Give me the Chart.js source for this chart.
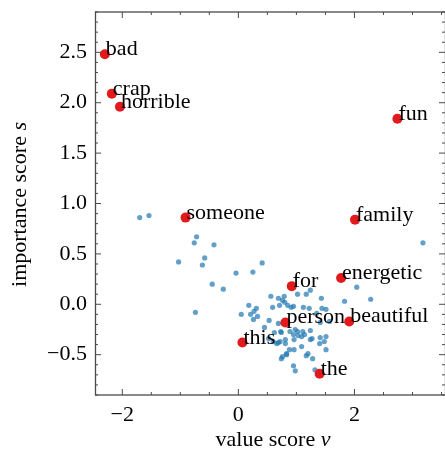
<!DOCTYPE html>
<html>
<head>
<meta charset="utf-8">
<script src="https://cdn.jsdelivr.net/npm/chart.js@4.4.1/dist/chart.umd.min.js"></script>
<style>
  html, body { margin: 0; padding: 0; background: #fff; }
</style>
</head>
<body>
<canvas id="scoreChart" width="445" height="450"></canvas>
<script>
// highlighted words
const words = ['bad', 'crap', 'horrible', 'fun', 'someone', 'family', 'energetic', 'for', 'person', 'beautiful', 'this', 'the'];
const wordValue = [-2.30, -2.18, -2.04, 2.74, -0.91, 2.01, 1.77, 0.92, 0.81, 1.91, 0.07, 1.40];
const wordImportance = [2.48, 2.09, 1.96, 1.84, 0.86, 0.84, 0.26, 0.18, -0.18, -0.17, -0.38, -0.69];

// all other tokens
const otherValue = [
  -1.70, -1.54, -0.72, -0.76, -0.42, -1.03, -0.58, -0.62, 0.41, -0.04, 0.25, -0.45, -0.26, -0.74,
  3.18, 2.04, 2.28, 1.83,
  0.56, 0.79, 0.76, 1.02, 1.17, 1.24, 1.43, 0.69, 0.18, 0.31, 0.27, 0.05, 0.21, 0.71, 0.59, 0.91,
  1.22, 1.51, 1.35, 0.33, 0.80, 0.85, 0.95, 1.12, 1.44, 0.53, 0.26, 0.45, 0.69, 0.73, 0.89, 1.02,
  1.11, 1.09, 1.24, 1.24, 0.95, 1.03, 1.14, 1.41, 1.40, 1.51, 1.41, 1.57, 0.98, 0.74, 0.62, 0.52,
  0.60, 0.66, 0.69, 0.72, 0.81, 0.81, 0.96, 1.27, 1.48, 0.96, 1.09, 0.88, 0.83, 0.83, 0.74, 0.76,
  1.17, 1.20, 1.28, 1.51, 0.95, 0.98, 1.32
];
const otherImportance = [
  0.86, 0.88, 0.67, 0.61, 0.59, 0.42, 0.46, 0.39, 0.41, 0.31, 0.32, 0.20, 0.15, -0.08,
  0.61, 0.17, 0.05, 0.03,
  0.08, 0.08, 0.04, 0.10, 0.10, 0.14, 0.06, 0.06, -0.01, -0.04, -0.07, -0.10, -0.10, -0.01, -0.03, -0.03,
  -0.04, -0.05, -0.09, -0.12, 0.02, -0.01, -0.02, -0.03, -0.04, -0.16, -0.15, -0.23, -0.19, -0.27, -0.27, -0.27,
  -0.27, -0.32, -0.26, -0.35, -0.30, -0.31, -0.30, -0.33, -0.39, -0.32, -0.18, -0.17, -0.25, -0.28, -0.28, -0.34,
  -0.37, -0.39, -0.38, -0.37, -0.35, -0.39, -0.35, -0.34, -0.37, -0.45, -0.42, -0.45, -0.49, -0.50, -0.54, -0.52,
  -0.51, -0.49, -0.54, -0.45, -0.61, -0.66, -0.65
];

const xTicks = [-2, 0, 2];
const yTicks = [-0.5, 0, 0.5, 1, 1.5, 2, 2.5];

const serif = '"Liberation Serif", "Times New Roman", serif';
const fontSize = 22;
const minus = s => s.replace('-', '\u2212');

const axesPlugin = {
  id: 'axesPlugin',
  afterDatasetsDraw(chart) {
    const { ctx, chartArea: a, scales: { x, y } } = chart;
    ctx.save();

    // word labels
    ctx.font = fontSize + 'px ' + serif;
    ctx.fillStyle = '#000';
    ctx.textAlign = 'left';
    ctx.textBaseline = 'alphabetic';
    words.forEach((w, i) => {
      ctx.fillText(w, x.getPixelForValue(wordValue[i]) + 1, y.getPixelForValue(wordImportance[i]) + 1);
    });

    // frame
    ctx.strokeStyle = '#4a4a4a';
    ctx.lineWidth = 1.3;
    ctx.strokeRect(a.left + 0.5, a.top, a.right - a.left, a.bottom - a.top);

    // inward ticks on all four sides
    ctx.lineWidth = 1;
    const tick = (px, len, horiz) => {
      ctx.beginPath();
      if (horiz) {
        ctx.moveTo(px, a.bottom); ctx.lineTo(px, a.bottom - len);
        ctx.moveTo(px, a.top); ctx.lineTo(px, a.top + len);
      } else {
        ctx.moveTo(a.left, px); ctx.lineTo(a.left + len, px);
        ctx.moveTo(a.right, px); ctx.lineTo(a.right - len, px);
      }
      ctx.stroke();
    };
    for (let v = Math.ceil(x.min * 2) / 2; v <= x.max; v += 0.5) {
      const major = Math.abs(v / 2 - Math.round(v / 2)) < 1e-6;
      tick(x.getPixelForValue(v), major ? 6 : 3, true);
    }
    for (let k = Math.ceil(y.min * 10); k <= y.max * 10; k++) {
      tick(y.getPixelForValue(k / 10), k % 5 === 0 ? 6 : 3, false);
    }

    // axis titles with italic variable
    ctx.fillStyle = '#000';
    const reg = fontSize + 'px ' + serif, ital = 'italic ' + fontSize + 'px ' + serif;
    ctx.font = reg;
    const xt1 = 'value score ';
    const w1 = ctx.measureText(xt1).width;
    ctx.font = ital;
    const w2 = ctx.measureText('v').width;
    let sx = (a.left + a.right) / 2 + 3 - (w1 + w2) / 2;
    ctx.font = reg;
    ctx.fillText(xt1, sx, 446);
    ctx.font = ital;
    ctx.fillText('v', sx + w1, 446);

    ctx.translate(26, (a.top + a.bottom) / 2 + 1);
    ctx.rotate(-Math.PI / 2);
    ctx.font = reg;
    const yt1 = 'importance score ';
    const v1 = ctx.measureText(yt1).width;
    ctx.font = ital;
    const v2 = ctx.measureText('s').width;
    sx = -(v1 + v2) / 2;
    ctx.font = reg;
    ctx.fillText(yt1, sx, 0);
    ctx.font = ital;
    ctx.fillText('s', sx + v1, 0);

    ctx.restore();
  }
};

new Chart(document.getElementById('scoreChart').getContext('2d'), {
  type: 'scatter',
  data: {
    datasets: [
      {
        label: 'words',
        data: words.map((w, i) => ({ x: wordValue[i], y: wordImportance[i] })),
        backgroundColor: '#e31a1c',
        pointRadius: 5,
        borderWidth: 0,
        order: 0
      },
      {
        label: 'tokens',
        data: otherValue.map((v, i) => ({ x: v, y: otherImportance[i] })),
        backgroundColor: 'rgba(31,119,180,0.7)',
        pointRadius: 2.6,
        borderWidth: 0,
        order: 1
      }
    ]
  },
  options: {
    responsive: false,
    animation: false,
    layout: { autoPadding: false, padding: { top: 12, left: 0, right: 0, bottom: 0 } },
    plugins: { legend: { display: false }, tooltip: { enabled: false } },
    scales: {
      x: {
        type: 'linear',
        min: -2.47,
        max: 3.56,
        afterBuildTicks: s => { s.ticks = xTicks.map(v => ({ value: v })); },
        afterFit: s => { s.height = 55; s.paddingLeft = 0; s.paddingRight = 0; },
        grid: { display: false, drawTicks: false },
        border: { display: false },
        ticks: {
          padding: 7,
          color: '#000',
          font: { family: serif, size: fontSize },
          maxRotation: 0,
          callback: v => minus(String(v))
        }
      },
      y: {
        type: 'linear',
        min: -0.9,
        max: 2.9,
        afterBuildTicks: s => { s.ticks = yTicks.map(v => ({ value: v })); },
        afterFit: s => { s.width = 95; s.paddingTop = 0; s.paddingBottom = 0; },
        grid: { display: false, drawTicks: false },
        border: { display: false },
        ticks: {
          padding: 8,
          color: '#000',
          font: { family: serif, size: fontSize },
          callback: v => minus(v.toFixed(1))
        }
      }
    }
  },
  plugins: [axesPlugin]
});
</script>
</body>
</html>
